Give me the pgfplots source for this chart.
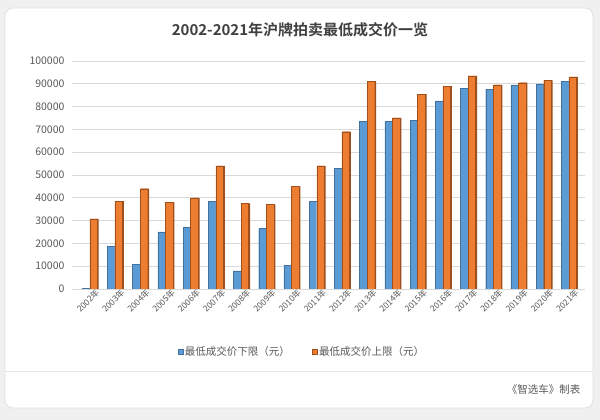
\documentclass[border=0pt]{standalone}
\usepackage{fontspec}
\setmainfont{Noto Sans CJK SC}[BoldFont={Noto Sans CJK SC Bold}]
\usepackage{pgfplots}
\usepackage{pgfplotstable}
\pgfplotsset{compat=1.18}
\definecolor{cblue}{HTML}{5B9BD5}
\definecolor{cbluedk}{HTML}{41719C}
\definecolor{corange}{HTML}{ED7D31}
\definecolor{corangedk}{HTML}{9E4F1C}
\definecolor{ctext}{HTML}{595959}
\definecolor{cgrid}{HTML}{D9D9D9}
\pgfplotstableread{
x low high
0 400 30800
1 18700 38500
2 10800 44000
3 25000 38000
4 27000 40000
5 38500 54000
6 8000 37500
7 26500 37000
8 10300 45000
9 38500 54000
10 53000 69000
11 73500 91000
12 73500 75000
13 74000 85500
14 82500 89000
15 88000 93500
16 87500 89500
17 89500 90500
18 90000 91500
19 91000 93000
}\datatable
\begin{document}
\begin{tikzpicture}[x=1pt,y=1pt]
\path[use as bounding box] (0,0) rectangle (600,420);
\fill[black!6] (0,0) rectangle (600,420);
\fill[white,draw=black!12,line width=0.8pt,rounded corners=8pt] (5,12) rectangle (593,412);
\draw[black!10,line width=1pt] (5,48) -- (593,48);
\node[font=\bfseries\fontsize{15}{18}\selectfont,text=black!75] at (300,390) {2002-2021年沪牌拍卖最低成交价一览};
\node[font=\fontsize{10.5}{12}\selectfont,text=ctext,anchor=east] at (584,30) {《智选车》制表};
\begin{axis}[
  at={(72pt,131pt)}, anchor=south west,
  scale only axis, width=513pt, height=228pt,
  xmin=-0.71, xmax=19.63, ymin=0, ymax=100000,
  ytick={0,10000,...,100000},
  scaled y ticks=false,
  yticklabel style={/pgf/number format/fixed,/pgf/number format/1000 sep={},font=\fontsize{10.5}{12}\selectfont,text=ctext,xshift=-4pt},
  /pgf/number format/assume math mode=true,
  xtick={0,...,19},
  xticklabels={2002年,2003年,2004年,2005年,2006年,2007年,2008年,2009年,2010年,2011年,2012年,2013年,2014年,2015年,2016年,2017年,2018年,2019年,2020年,2021年},
  xticklabel style={rotate=45,anchor=north east,font=\fontsize{8.5}{9}\selectfont,text=ctext,inner sep=1pt,xshift=5pt,yshift=-2pt},
  axis line style={draw=none},
  major tick length=0pt,
  ymajorgrids, grid style={cgrid,line width=0.6pt},
  ybar,
  legend style={at={(0.448,-0.276)},anchor=center,draw=none,fill=none,legend columns=2,font=\fontsize{10.5}{12}\selectfont,text=ctext,/tikz/every even column/.append style={column sep=20pt}},
  legend image code/.code={\fill[#1] (0pt,-2.5pt) rectangle (5pt,2.5pt);},
]
\addplot[fill=cblue,draw=cbluedk,line width=0.3pt,bar width=7.5pt,bar shift=-4pt] table[x=x,y=low]{\datatable};
\addlegendentry{最低成交价下限（元）}
\addplot[fill=corangedk,draw=none,bar width=8pt,bar shift=4.8pt,forget plot] table[x=x,y=high]{\datatable};
\addplot[fill=corange,draw=corangedk,line width=0.3pt,bar width=7.5pt,bar shift=3.6pt] table[x=x,y=high]{\datatable};
\addlegendentry{最低成交价上限（元）}
\end{axis}
\end{tikzpicture}
\end{document}
